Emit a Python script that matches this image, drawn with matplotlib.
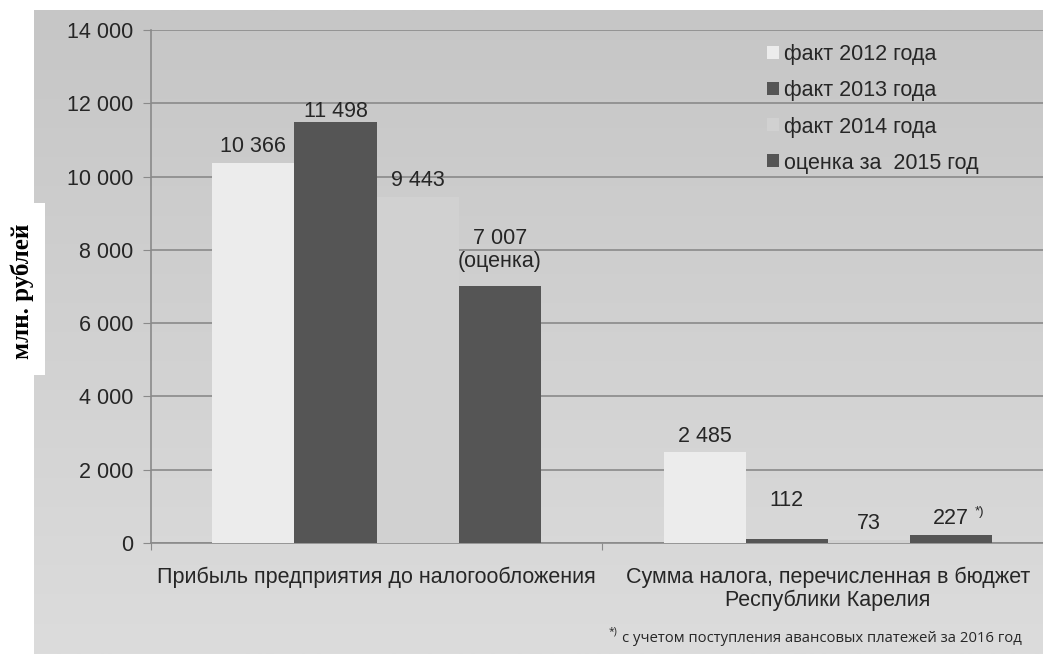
import numpy as np
import matplotlib
matplotlib.use("Agg")
import matplotlib.pyplot as plt
from matplotlib.patches import Rectangle

categories = ["Прибыль предприятия до налогообложения",
              "Сумма налога, перечисленная в бюджет\nРеспублики Карелия"]
series_names = ["факт 2012 года", "факт 2013 года", "факт 2014 года", "оценка за  2015 год"]
values = {
    "факт 2012 года": [10366, 2485],
    "факт 2013 года": [11498, 112],
    "факт 2014 года": [9443, 73],
    "оценка за  2015 год": [7007, 227],
}
value_labels = {
    "факт 2012 года": ["10 366", "2 485"],
    "факт 2013 года": ["11 498", "112"],
    "факт 2014 года": ["9 443", "73"],
    "оценка за  2015 год": ["7 007\n(оценка)", "227"],
}
yticks = [0, 2000, 4000, 6000, 8000, 10000, 12000, 14000]
ytick_labels = ["0", "2 000", "4 000", "6 000", "8 000", "10 000", "12 000", "14 000"]
footnote = "с учетом поступления авансовых платежей за 2016 год"

colors = ["#ececec", "#555555", "#d1d1d1", "#555555"]
# label offsets in pixels above bar top (to label bottom)
label_offsets = {
    "факт 2012 года": [6, 5],
    "факт 2013 года": [0, 28],
    "факт 2014 года": [6, 6],
    "оценка за  2015 год": [14, 6],
}

W, H = 1043, 654
FS = 15.5
fig = plt.figure(figsize=(W / 100, H / 100), dpi=100, facecolor="white")

# gradient panel
bg = fig.add_axes([34 / W, 0, 1 - 34 / W, 1 - 10 / H], zorder=0)
grad = np.linspace(0, 1, 256).reshape(-1, 1)
bg.imshow(grad, aspect="auto", cmap=matplotlib.colors.LinearSegmentedColormap.from_list(
    "g", ["#c6c6c6", "#dcdcdc"]), extent=[0, 1, 0, 1], origin="upper")
bg.set_axis_off()

ax = fig.add_axes([151 / W, 1 - 543 / H, 1 - 151 / W, (543 - 30) / H], zorder=1)
ax.patch.set_alpha(0)

txtcol = "#262626"
fam = ["Liberation Sans", "DejaVu Sans"]
w = 0.182
x = np.arange(len(categories))
for i, name in enumerate(series_names):
    off = (i - 1.5) * w
    bars = ax.bar(x + off, values[name], width=w, color=colors[i], label=name, zorder=3)
    for j, b in enumerate(bars):
        ax.annotate(value_labels[name][j], (b.get_x() + b.get_width() / 2, b.get_height()),
                    xytext=(0, label_offsets[name][j] * 0.72), textcoords="offset points",
                    ha="center", va="bottom", fontsize=FS, color=txtcol, family=fam,
                    linespacing=1.15, zorder=5)
        if name == "оценка за  2015 год" and j == 1:
            ax.annotate("*)", (b.get_x() + b.get_width() / 2, b.get_height()),
                        xytext=(17, 12), textcoords="offset points",
                        ha="left", va="bottom", fontsize=9.5, color=txtcol, family=fam)

ax.set_xlim(-0.5, 1.477)
ax.set_ylim(0, 14000)
ax.set_yticks(yticks)
ax.set_yticklabels(ytick_labels, fontsize=FS, color=txtcol, family=fam)
ax.yaxis.grid(True, color="#8a8a8a", linewidth=1.2, zorder=0)
ax.set_axisbelow(True)
ax.tick_params(axis="y", length=6, color="#8a8a8a", pad=7)
ax.set_xticks([-0.5, 0.5], minor=False)
ax.set_xticklabels(["", ""])
ax.tick_params(axis="x", length=5, color="#8a8a8a")
ax.set_xticks(x, minor=True)
ax.set_xticklabels(categories, minor=True, fontsize=FS, color=txtcol, family=fam, linespacing=1.1)
ax.tick_params(axis="x", which="minor", length=0, pad=17)
for s in ["top", "right"]:
    ax.spines[s].set_visible(False)
for s in ["left", "bottom"]:
    ax.spines[s].set_color("#8a8a8a")
    ax.spines[s].set_linewidth(1.2)

leg = ax.legend(loc="upper left", bbox_to_anchor=((748 - 151) / (W - 151), 1 + 5 / 513),
                frameon=False, handlelength=0.55, handleheight=0.55,
                handletextpad=0.2, labelspacing=0.70, prop={"family": fam, "size": FS})
for t in leg.get_texts():
    t.set_color(txtcol)

# y label box
fig.patches.append(Rectangle((0, 1 - 375 / H), 45 / W, 172 / H, transform=fig.transFigure,
                             facecolor="white", edgecolor="none", zorder=2))
fig.text(22 / W, 1 - 291 / H, "млн. рублей", rotation=90, ha="center", va="center",
         fontsize=18, fontweight="bold", family=["Liberation Serif", "DejaVu Serif"],
         color="black", zorder=3)

# footnote
fig.text(622 / W, 1 - 638 / H, footnote, ha="left", va="center", fontsize=10.7,
         family=["Open Sans", "DejaVu Sans"], color=txtcol, zorder=3)
fig.text(609 / W, 1 - 632 / H, "*)", ha="left", va="center", fontsize=7.5,
         family=["Open Sans", "DejaVu Sans"], color=txtcol, zorder=3)

fig.savefig("out.png", dpi=100, facecolor="white")
